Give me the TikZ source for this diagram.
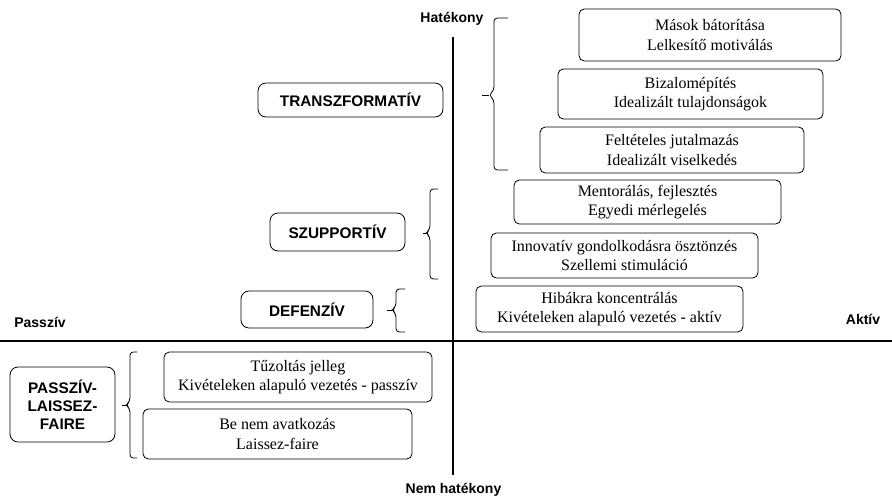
\documentclass[tikz,border=0pt]{standalone}
\usepackage{fontspec}
\setmainfont{Liberation Serif}
\setsansfont{Liberation Sans}
\newlength\px
\setlength\px{0.75pt}
\tikzset{item/.style={draw, rounded corners=4pt, align=center, inner sep=0pt, line width=0.6pt, font=\fontsize{12}{14.5}\selectfont},
  group/.style={draw, rounded corners=6pt, align=center, inner sep=0pt, line width=0.6pt, font=\sffamily\bfseries\fontsize{11.5}{13.5}\selectfont},
  pole/.style={inner sep=0pt, font=\sffamily\bfseries\fontsize{10.5}{12}\selectfont},
  axis/.style={line width=2.2pt},
  curly/.style={rounded corners=2.5pt, line width=0.6pt}}

\begin{document}
\begin{tikzpicture}[x=0.75pt,y=-0.75pt]
   \useasboundingbox (0,0) rectangle (892,501);
   \coordinate (top) at (453,37);
   \coordinate (bottom) at (453,475);
   \coordinate (left) at (0,341);
   \coordinate (right) at (892,341);
   \draw[axis] (top) -- (bottom);
   \draw[axis] (left) -- (right);
   \node[pole] (hatekony) at (452,19) {Hatékony};
   \node[pole] (nemhatekony) at (453.5,490) {Nem hatékony};
   \node[pole] (passziv) at (40,322) {Passzív};
   \node[pole] (aktiv) at (863,319) {Aktív};
   \begin{scope}
    \node[item, minimum width=262\px, minimum height=52\px] (bator) at (710,35) {Mások bátorítása\\Lelkesítő motiválás};
    \node[item, minimum width=265\px, minimum height=50\px] (bizalom) at (690.5,94) {Bizalomépítés\\Idealizált tulajdonságok};
    \node[item, minimum width=264\px, minimum height=46\px] (jutalom) at (672,150) {Feltételes jutalmazás\\Idealizált viselkedés};
    \node[item, minimum width=267\px, minimum height=44\px] (mentor) at (647.5,202) {Mentorálás, fejlesztés\\Egyedi mérlegelés};
    \node[item, minimum width=267\px, minimum height=45\px] (innov) at (624.5,255.5) {Innovatív gondolkodásra ösztönzés\\Szellemi stimuláció};
    \node[item, minimum width=267\px, minimum height=46\px] (hiba) at (609.5,309) {Hibákra koncentrálás\\Kivételeken alapuló vezetés - aktív};
    \node[item, minimum width=268\px, minimum height=50\px] (tuzoltas) at (298,377) {Tűzoltás jelleg\\Kivételeken alapuló vezetés - passzív};
    \node[item, minimum width=269\px, minimum height=50\px] (benem) at (277.5,434) {Be nem avatkozás\\Laissez-faire};
   \end{scope}
   \begin{scope}
    \node[group, minimum width=185\px, minimum height=34\px] (transz) at (350.5,100) {TRANSZFORMATÍV};
    \node[group, minimum width=135\px, minimum height=38\px] (szupp) at (337.5,232) {SZUPPORTÍV};
    \node[group, minimum width=132\px, minimum height=37\px] (defenz) at (307,309.5) {DEFENZÍV};
    \node[group, minimum width=105\px, minimum height=75\px] (laissez) at (62.5,404.5) {PASSZÍV-\\LAISSEZ-\\FAIRE};
   \end{scope}
   \begin{scope}
    \draw[curly] (508,18) -- (494,18) -- (494,90) -- (489,95) -- (494,100) -- (494,170) -- (508,170);
    \draw[curly] (489,95) -- (482,95);
    \draw[curly] (438,189) -- (430,189) -- (430,229) -- (426,233) -- (430,237) -- (430,279) -- (438,279);
    \draw[curly] (426,233) -- (423,233);
    \draw[curly] (405,289) -- (396,289) -- (396,306) -- (392,310) -- (396,314) -- (396,332) -- (405,332);
    \draw[curly] (392,310) -- (387,310);
    \draw[curly] (137,352) -- (130,352) -- (130,401) -- (126,405) -- (130,409) -- (130,458) -- (137,458);
    \draw[curly] (126,405) -- (122,405);
   \end{scope}
  \end{tikzpicture}
\end{document}
